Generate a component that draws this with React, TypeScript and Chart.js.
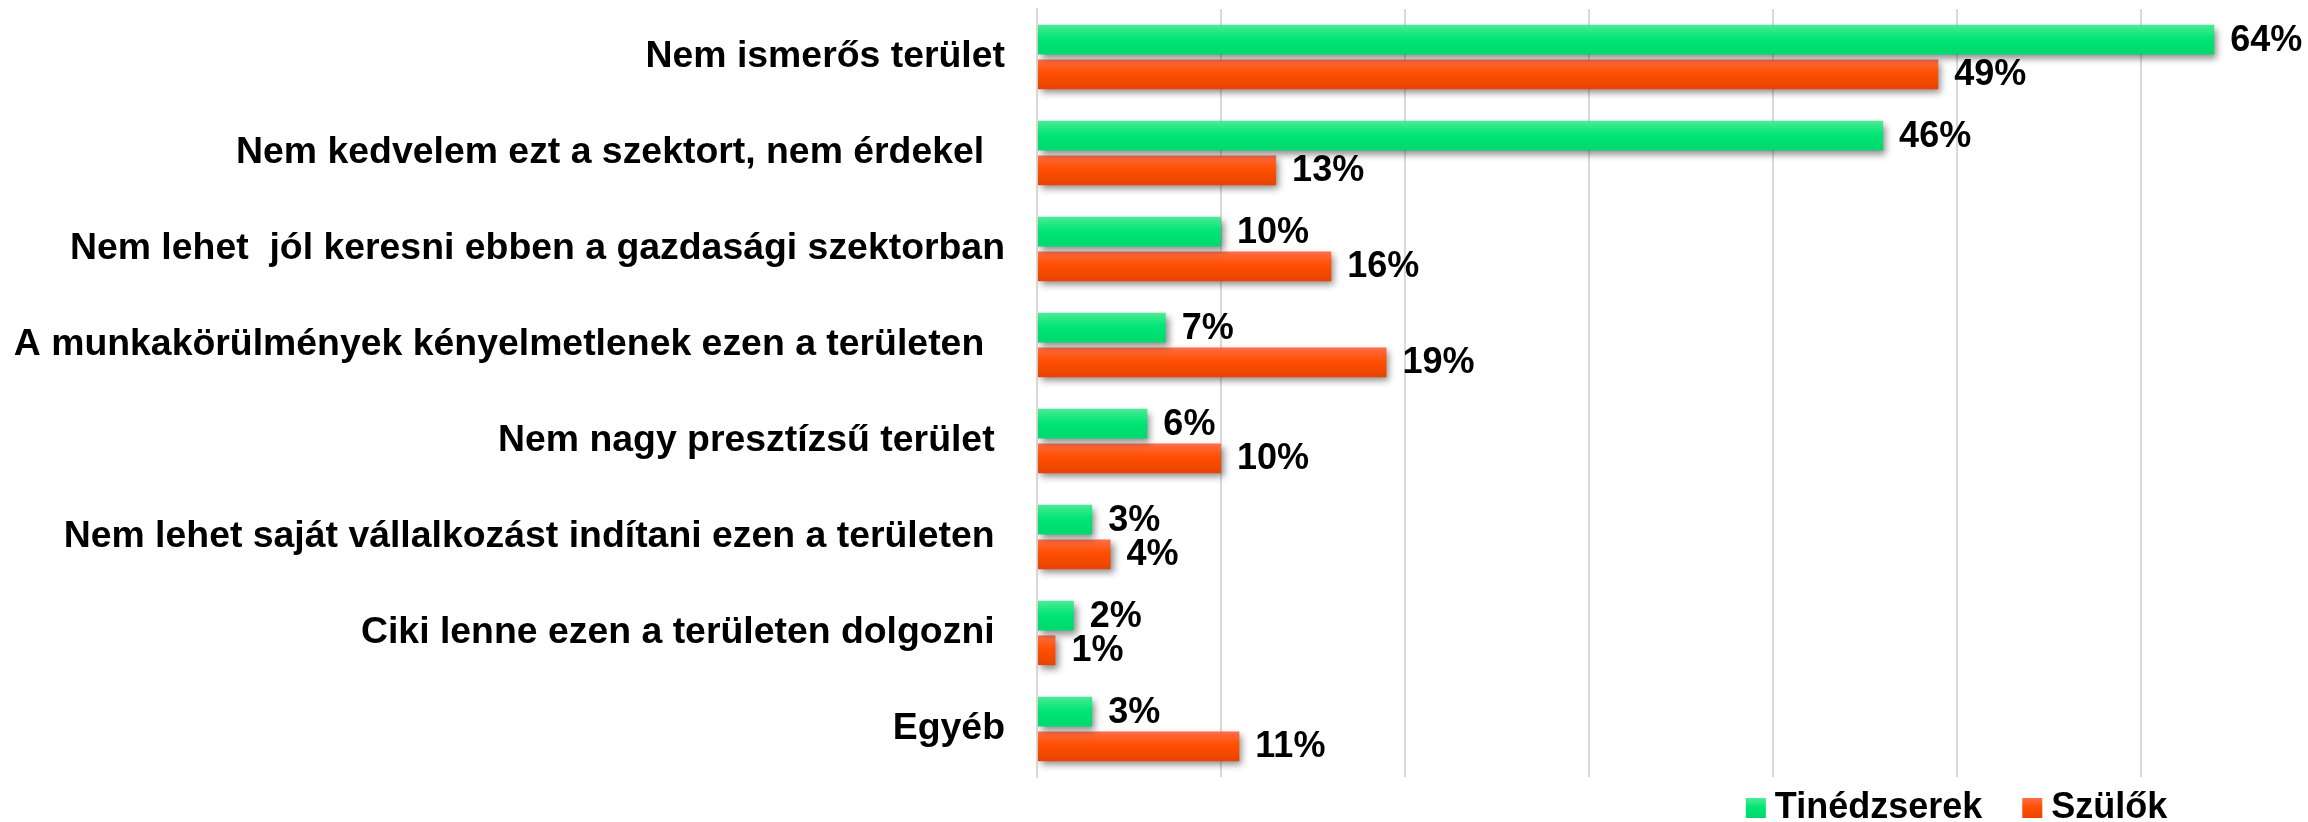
import React, { useEffect, useRef } from "react";
import { Chart, registerables } from "chart.js";

Chart.register(...registerables);

const categories = [
  "Nem ismerős terület",
  "Nem kedvelem ezt a szektort, nem érdekel  ",
  "Nem lehet  jól keresni ebben a gazdasági szektorban",
  "A munkakörülmények kényelmetlenek ezen a területen  ",
  "Nem nagy presztízsű terület ",
  "Nem lehet saját vállalkozást indítani ezen a területen ",
  "Ciki lenne ezen a területen dolgozni ",
  "Egyéb",
];
const seriesNames = ["Tinédzserek", "Szülők"];
const teens = [64, 46, 10, 7, 6, 3, 2, 3];
const parents = [49, 13, 16, 19, 10, 4, 1, 11];

const FONT = '"Liberation Sans", Arial, Helvetica, sans-serif';
const GREEN_STOPS: [number, string][] = [
  [0, "#4deb95"],
  [0.45, "#00e676"],
  [1, "#00d86c"],
];
const ORANGE_STOPS: [number, string][] = [
  [0, "#ff6e48"],
  [0.45, "#ff5000"],
  [1, "#e84400"],
];
const STOPS = [GREEN_STOPS, ORANGE_STOPS];

function grad(ctx: CanvasRenderingContext2D, y0: number, y1: number, stops: [number, string][]) {
  const g = ctx.createLinearGradient(0, y0, 0, y1);
  stops.forEach(([o, c]) => g.addColorStop(o, c));
  return g;
}

const barStylePlugin = {
  id: "barStyle",
  beforeDatasetsDraw(chart: any) {
    const ctx = chart.ctx;
    chart.data.datasets.forEach((_: any, di: number) => {
      const meta = chart.getDatasetMeta(di);
      meta.data.forEach((el: any) => {
        const h = el.height;
        el.options = Object.assign({}, el.options, {
          backgroundColor: grad(ctx, el.y - h / 2, el.y + h / 2, STOPS[di]),
        });
      });
    });
    ctx.save();
    ctx.shadowColor = "rgba(0,0,0,0.45)";
    ctx.shadowBlur = 7;
    ctx.shadowOffsetX = 3;
    ctx.shadowOffsetY = 4;
  },
  afterDatasetsDraw(chart: any) {
    const ctx = chart.ctx;
    ctx.restore();
    ctx.save();
    ctx.font = `bold 36px ${FONT}`;
    ctx.fillStyle = "#000";
    ctx.textAlign = "left";
    ctx.textBaseline = "middle";
    chart.data.datasets.forEach((ds: any, di: number) => {
      const meta = chart.getDatasetMeta(di);
      meta.data.forEach((el: any, i: number) => {
        ctx.fillText(`${ds.data[i]}%`, el.x + 16, el.y + 1);
      });
    });
    ctx.restore();
  },
};

const legendPlugin = {
  id: "customLegend",
  afterDraw(chart: any) {
    const ctx = chart.ctx;
    ctx.save();
    ctx.font = `bold 36px ${FONT}`;
    ctx.textBaseline = "middle";
    ctx.textAlign = "left";
    const box = 20;
    const gapText = 9;
    const gapItem = 40;
    const widths = seriesNames.map((n) => ctx.measureText(n).width);
    const total = widths.reduce((a, w) => a + box + gapText + w, 0) + gapItem * (seriesNames.length - 1);
    const area = chart.chartArea;
    const cx = area.left + (area.right - area.left) * 0.7235;
    let x = cx - total / 2;
    const yMid = area.bottom + 31;
    seriesNames.forEach((n, i) => {
      ctx.fillStyle = grad(ctx, yMid - box / 2, yMid + box / 2, STOPS[i]);
      ctx.fillRect(x, yMid - box / 2, box, box);
      x += box + gapText;
      ctx.fillStyle = "#000";
      ctx.fillText(n, x, yMid);
      x += widths[i] + gapItem;
    });
    ctx.restore();
  },
};

export default function App() {
  const ref = useRef<HTMLCanvasElement>(null);
  useEffect(() => {
    document.body.style.margin = "0";
    const chart = new Chart(ref.current as HTMLCanvasElement, {
      type: "bar",
      data: {
        labels: categories,
        datasets: [
          { label: seriesNames[0], data: teens, backgroundColor: "#00e676" },
          { label: seriesNames[1], data: parents, backgroundColor: "#ff5000" },
        ],
      },
      options: {
        indexAxis: "y",
        responsive: false,
        animation: false,
        events: [],
        categoryPercentage: 0.72,
        barPercentage: 0.86,
        layout: { padding: { top: 9, bottom: 45, left: 0, right: 0 } },
        plugins: { legend: { display: false }, tooltip: { enabled: false } },
        scales: {
          x: {
            min: 0,
            max: 69.1,
            ticks: { display: false, stepSize: 10, includeBounds: false },
            grid: { color: "#d9d9d9", lineWidth: 2, drawTicks: false },
            border: { display: false },
            afterFit: (s: any) => {
              s.height = 0;
              s.paddingLeft = 0;
              s.paddingRight = 0;
            },
          },
          y: {
            afterFit: (s: any) => {
              s.width = 1037;
              s.paddingTop = 0;
              s.paddingBottom = 0;
            },
            ticks: {
              color: "#000",
              padding: 32,
              font: { family: FONT, size: 37.4, weight: "bold" },
              autoSkip: false,
            },
            grid: { display: false, drawTicks: false },
            border: { display: true, color: "#d9d9d9", width: 2 },
          },
        },
      } as any,
      plugins: [barStylePlugin, legendPlugin],
    });
    return () => chart.destroy();
  }, []);
  return <canvas ref={ref} width={2308} height={822} style={{ display: "block" }} />;
}
